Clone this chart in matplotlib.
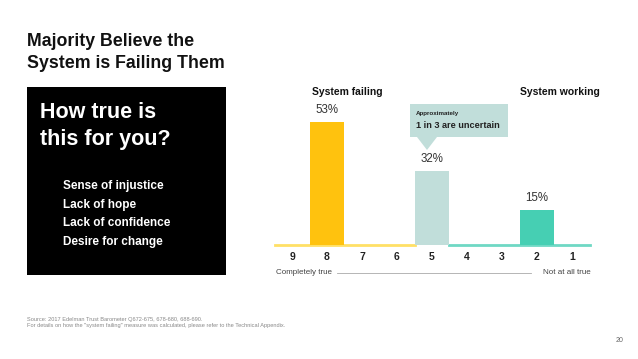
import matplotlib.pyplot as plt
from matplotlib.patches import Rectangle, Polygon

plt.rcParams['font.family'] = ['Liberation Sans', 'DejaVu Sans']

# data
scale_labels = ['9', '8', '7', '6', '5', '4', '3', '2', '1']
bar_values = [0, 53, 0, 0, 32, 0, 0, 15, 0]
bar_colors = ['#FFC20E', '#FFC20E', '#FFC20E', '#FFC20E', '#C1DEDA',
              '#46CFB3', '#46CFB3', '#46CFB3', '#46CFB3']
side_labels = ['System failing', 'System working']
items = ['Sense of injustice', 'Lack of hope', 'Lack of confidence', 'Desire for change']

W, H = 638, 359
fig = plt.figure(figsize=(W / 100, H / 100), dpi=100)


def fx(px):
    return px / W


def fy(py):
    return 1 - py / H


# title
fig.text(fx(27), fy(41), 'Majority Believe the', fontsize=12.8, fontweight='bold',
         va='center', ha='left', color='#111111')
fig.text(fx(27), fy(63), 'System is Failing Them', fontsize=12.8, fontweight='bold',
         va='center', ha='left', color='#111111')

# black panel
fig.patches.append(Rectangle((fx(27), fy(275)), fx(226) - fx(27), fy(87) - fy(275),
                             transform=fig.transFigure, facecolor='black',
                             edgecolor='none', zorder=0))
fig.text(fx(40), fy(113), 'How true is', fontsize=15.5, fontweight='bold',
         color='white', va='center', ha='left')
fig.text(fx(40), fy(140), 'this for you?', fontsize=15.5, fontweight='bold',
         color='white', va='center', ha='left')
for i, t in enumerate(items):
    fig.text(fx(63), fy(186 + i * 18.6), t, fontsize=8.5, fontweight='bold',
             color='white', va='center', ha='left')

# bar chart
ax = fig.add_axes([fx(274.5), fy(245), fx(589.5) - fx(274.5), fy(106) - fy(245)])
x = list(range(len(scale_labels)))
bars = ax.bar(x, bar_values, width=0.95, color=bar_colors, zorder=2)
ax.set_xlim(-0.5, 8.5)
ax.set_ylim(0, 60)
for s in ax.spines.values():
    s.set_visible(False)
ax.set_yticks([])
ax.set_xticks(x)
ax.set_xticklabels(scale_labels, fontsize=7.5, fontweight='bold', color='#222222')
ax.tick_params(axis='x', length=0, pad=5)
# baseline split in two colours
ax.plot([-0.5, 3.52], [0, 0], color='#FFE066', lw=2, zorder=1, clip_on=False)
ax.plot([4.48, 8.5], [0, 0], color='#6FD8C4', lw=2, zorder=1, clip_on=False)
for xi, v in zip(x, bar_values):
    if v:
        ax.text(xi, v + 2.5, f'{v}%', ha='center', va='bottom', fontsize=8.3,
                color='#333333')

fig.text(fx(347), fy(92), side_labels[0], fontsize=7.5, fontweight='bold',
         ha='center', va='center', color='#111111')
fig.text(fx(560), fy(92), side_labels[1], fontsize=7.5, fontweight='bold',
         ha='center', va='center', color='#111111')

# callout
fig.patches.append(Rectangle((fx(410), fy(137)), fx(508) - fx(410), fy(104) - fy(137),
                             transform=fig.transFigure, facecolor='#C1DEDA',
                             edgecolor='none'))
fig.patches.append(Polygon([(fx(417), fy(137)), (fx(437), fy(137)), (fx(427), fy(150))],
                           closed=True, transform=fig.transFigure,
                           facecolor='#C1DEDA', edgecolor='none'))
fig.text(fx(416), fy(114), 'Approximately', fontsize=4.5, fontweight='bold',
         ha='left', va='center', color='#222222')
fig.text(fx(416), fy(126), '1 in 3 are uncertain', fontsize=6.6, fontweight='bold',
         ha='left', va='center', color='#222222')

# scale ends
fig.text(fx(276), fy(273), 'Completely true', fontsize=5.8, ha='left', va='center',
         color='#444444')
fig.text(fx(591), fy(273), 'Not at all true', fontsize=5.8, ha='right', va='center',
         color='#444444')
fig.add_artist(plt.Line2D([fx(337), fx(531)], [fy(273), fy(273)], color='#AAAAAA',
                          lw=0.6, transform=fig.transFigure))

# footnote
fig.text(fx(27), fy(319), 'Source: 2017 Edelman Trust Barometer Q672-675, 678-680, 688-690.',
         fontsize=4.1, ha='left', va='center', color='#888888')
fig.text(fx(27), fy(326), 'For details on how the "system failing" measure was calculated, '
         'please refer to the Technical Appendix.',
         fontsize=4.1, ha='left', va='center', color='#888888')
fig.text(fx(620), fy(340), '20', fontsize=5, ha='center', va='center', color='#666666')

fig.savefig('out.png', dpi=100)
